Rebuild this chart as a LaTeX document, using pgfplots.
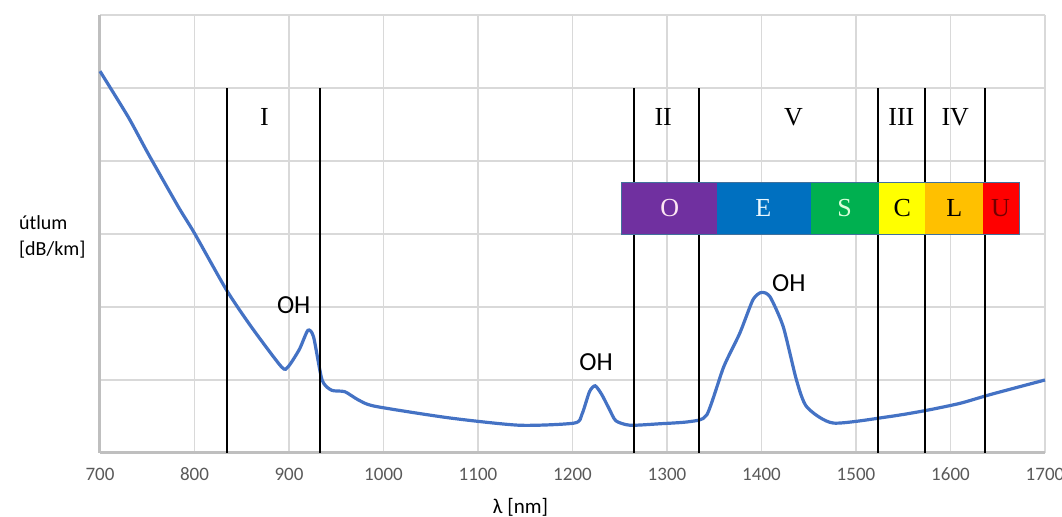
\documentclass[border=0pt]{standalone}
\usepackage{fontspec}
\setmainfont{Carlito}
\newfontfamily\rom{Liberation Serif}
\usepackage{pgfplots}
\pgfplotsset{compat=1.18}
\definecolor{curve}{HTML}{4472C4}
\definecolor{gridc}{HTML}{D9D9D9}
\definecolor{axisc}{HTML}{BFBFBF}
\definecolor{tickc}{HTML}{595959}
\definecolor{bO}{HTML}{7030A0}
\definecolor{bE}{HTML}{0070C0}
\definecolor{bS}{HTML}{00B050}
\definecolor{bC}{HTML}{FFFF00}
\definecolor{bL}{HTML}{FFC000}
\definecolor{bU}{HTML}{FF0000}
\definecolor{bedge}{HTML}{41719C}
\tikzset{rn/.style={font=\rom\fontsize{13}{13}\selectfont},
  oh/.style={font=\fontsize{13}{13}\selectfont}}
\begin{document}
\begin{tikzpicture}
\path[use as bounding box] (-50pt,-32pt) rectangle (481pt,226.5pt);
\begin{axis}[
  at={(0,0)},anchor=south west,
  scale only axis,width=472.5pt,height=219pt,
  xmin=700,xmax=1700,ymin=0,ymax=6,
  xtick={700,800,...,1700},ytick={0,1,...,6},yticklabels={},
  axis x line=bottom,axis y line=left,
  axis line style={axisc,line width=1.5pt,-},
  grid=major,grid style={gridc,line width=0.6pt},
  major tick length=0pt,
  tick label style={font=\fontsize{9.5}{11}\selectfont,text=tickc},
  xticklabel style={anchor=base,yshift=-14pt},
  /pgf/number format/assume math mode=true,
  /pgf/number format/1000 sep={},
  clip=false]
  % fibre attenuation curve
  \addplot[curve,line width=1.6pt,smooth,tension=0.4] coordinates {
    (700,5.23) (730,4.60) (751,4.10) (783,3.37) (800,3.01) (834,2.23)
    (860,1.73) (892,1.18) (899,1.18) (911,1.42) (920,1.68) (926,1.59)
    (935,1.00) (945,0.86) (959,0.84) (973,0.73) (991,0.64)
    (1070,0.48) (1144,0.38) (1202,0.41) (1210,0.53) (1218,0.84)
    (1224,0.92) (1231,0.80) (1239,0.60) (1246,0.44) (1261,0.38)
    (1292,0.40) (1324,0.43) (1342,0.52) (1360,1.18) (1377,1.64)
    (1391,2.10) (1400,2.20) (1409,2.14) (1423,1.73) (1437,1.00)
    (1448,0.63) (1476,0.41) (1536,0.50)
    (1573,0.58) (1610,0.68) (1642,0.80) (1700,1.00)};
  % window boundaries
  \addplot[black,line width=1pt] coordinates {(834,0) (834,5)};
  \addplot[black,line width=1pt] coordinates {(933,0) (933,5)};
  \addplot[black,line width=1pt] coordinates {(1265,0) (1265,5)};
  \addplot[black,line width=1pt] coordinates {(1334,0) (1334,5)};
  \addplot[black,line width=1pt] coordinates {(1523,0) (1523,5)};
  \addplot[black,line width=1pt] coordinates {(1573,0) (1573,5)};
  \addplot[black,line width=1pt] coordinates {(1636,0) (1636,5)};
  % band bar
  \fill[bO] (axis cs:1252,3) rectangle (axis cs:1353,3.71);
  \fill[bE] (axis cs:1353,3) rectangle (axis cs:1452,3.71);
  \fill[bS] (axis cs:1452,3) rectangle (axis cs:1524,3.71);
  \fill[bC] (axis cs:1524,3) rectangle (axis cs:1573,3.71);
  \fill[bL] (axis cs:1573,3) rectangle (axis cs:1634,3.71);
  \fill[bU] (axis cs:1634,3) rectangle (axis cs:1673,3.71);
  \draw[bedge,line width=0.4pt] (axis cs:1252,3) rectangle (axis cs:1673,3.71);
  \node[rn,text=white!90!magenta] at (axis cs:1303,3.36) {O};
  \node[rn,text=white!92!cyan] at (axis cs:1402,3.36) {E};
  \node[rn,text=white!85!green] at (axis cs:1488,3.36) {S};
  \node[rn,text=black] at (axis cs:1549,3.36) {C};
  \node[rn,text=black] at (axis cs:1604,3.36) {L};
  \node[rn,text=red!45!black] at (axis cs:1653,3.36) {U};
  \node[rn] at (axis cs:874,4.6) {I};
  \node[rn] at (axis cs:1296,4.6) {II};
  \node[rn] at (axis cs:1434,4.6) {V};
  \node[rn] at (axis cs:1548,4.6) {III};
  \node[rn] at (axis cs:1605,4.6) {IV};
  \node[oh] at (axis cs:905,2.03) {OH};
  \node[oh] at (axis cs:1225,1.25) {OH};
  \node[oh] at (axis cs:1429,2.33) {OH};
  \node[anchor=west,align=left,font=\fontsize{10}{13}\selectfont,xshift=-44pt]
    at (axis cs:700,2.96) {útlum\\{}[dB/km]};
  \node[font=\fontsize{10.5}{13}\selectfont,yshift=-27pt] at (axis cs:1145,0) {λ [nm]};
\end{axis}
\end{tikzpicture}
\end{document}
